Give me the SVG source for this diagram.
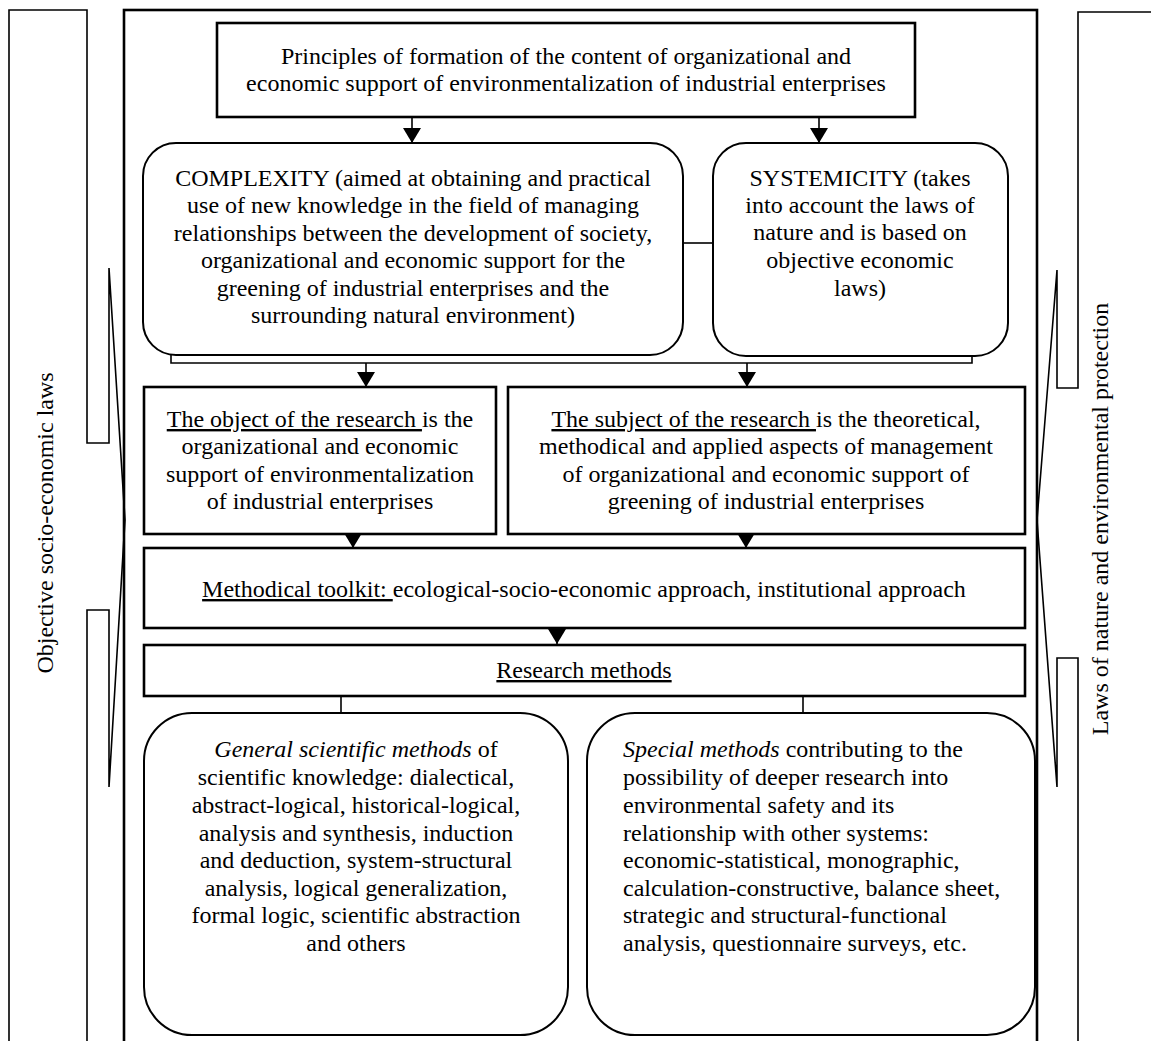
<svg xmlns="http://www.w3.org/2000/svg" width="1151" height="1041" viewBox="0 0 1151 1041">
<style>
text{font-family:"Liberation Serif","Times New Roman",serif;font-size:24px;fill:#000}
.c{text-anchor:middle}
.box{fill:#fff;stroke:#000;stroke-width:2.6}
.rbox{fill:#fff;stroke:#000;stroke-width:2}
.ln{fill:none;stroke:#000;stroke-width:1.6}
.call{fill:none;stroke:#000;stroke-width:1.6}
.u{text-decoration:underline}
</style>
<defs>
<marker id="ah" markerUnits="userSpaceOnUse" markerWidth="18" markerHeight="15" refX="9" refY="15" orient="0" viewBox="0 0 18 15">
<path d="M0,0 L18,0 L9,15 Z" fill="#000"/>
</marker>
</defs>
<rect width="1151" height="1041" fill="#fff"/>
<g id="left-callout">
<polyline class="call" points="9,1045 9,10 87,10 87,443 109,443 109,268 125,520 109,787 109,610 87,610 87,1045"/>
<text class="c" transform="translate(53,523) rotate(-90)">Objective socio-economic laws</text>
</g>
<g id="right-callout">
<polyline class="call" points="1155,12 1078,12 1078,388 1057,388 1057,270 1037,520 1057,787 1057,658 1078,658 1078,1045"/>
<text class="c" transform="translate(1108,519) rotate(-90)">Laws of nature and environmental protection</text>
</g>
<g id="frame">
<rect x="124" y="10" width="913" height="1045" fill="none" stroke="#000" stroke-width="2.6"/>
</g>
<g id="connectors">
<line class="ln" x1="412" y1="117" x2="412" y2="143" marker-end="url(#ah)"/>
<line class="ln" x1="819" y1="117" x2="819" y2="143" marker-end="url(#ah)"/>
<line class="ln" x1="683" y1="243" x2="713" y2="243"/>
<polyline class="ln" points="171,355 171,363 972,363 972,355"/>
<line class="ln" x1="366" y1="363" x2="366" y2="387" marker-end="url(#ah)"/>
<line class="ln" x1="747" y1="363" x2="747" y2="387" marker-end="url(#ah)"/>
<line class="ln" x1="353" y1="534" x2="353" y2="548" marker-end="url(#ah)"/>
<line class="ln" x1="746" y1="534" x2="746" y2="548" marker-end="url(#ah)"/>
<line class="ln" x1="557" y1="628" x2="557" y2="644" marker-end="url(#ah)"/>
<line class="ln" x1="341" y1="696" x2="341" y2="713"/>
<line class="ln" x1="803" y1="696" x2="803" y2="713"/>
</g>
<g id="principles">
<rect class="box" x="217" y="23" width="698" height="94"/>
<text class="c" x="566" y="64">Principles of formation of the content of organizational and</text>
<text class="c" x="566" y="91">economic support of environmentalization of industrial enterprises</text>
</g>
<g id="complexity">
<rect class="rbox" x="143" y="143" width="540" height="212" rx="33" ry="33"/>
<text class="c" x="413" y="186">COMPLEXITY (aimed at obtaining and practical</text>
<text class="c" x="413" y="213">use of new knowledge in the field of managing</text>
<text class="c" x="413" y="241">relationships between the development of society,</text>
<text class="c" x="413" y="268">organizational and economic support for the</text>
<text class="c" x="413" y="296">greening of industrial enterprises and the</text>
<text class="c" x="413" y="323">surrounding natural environment)</text>
</g>
<g id="systemicity">
<rect class="rbox" x="713" y="143" width="295" height="213" rx="33" ry="33"/>
<text class="c" x="860" y="186">SYSTEMICITY (takes</text>
<text class="c" x="860" y="213">into account the laws of</text>
<text class="c" x="860" y="240">nature and is based on</text>
<text class="c" x="860" y="268">objective economic</text>
<text class="c" x="860" y="296">laws)</text>
</g>
<g id="object">
<rect class="box" x="144" y="387" width="352" height="147"/>
<text class="c" x="320" y="427"><tspan class="u">The object of the research </tspan>is the</text>
<text class="c" x="320" y="454">organizational and economic</text>
<text class="c" x="320" y="482">support of environmentalization</text>
<text class="c" x="320" y="509">of industrial enterprises</text>
</g>
<g id="subject">
<rect class="box" x="508" y="387" width="517" height="147"/>
<text class="c" x="766" y="427"><tspan class="u">The subject of the research </tspan>is the theoretical,</text>
<text class="c" x="766" y="454">methodical and applied aspects of management</text>
<text class="c" x="766" y="482">of organizational and economic support of</text>
<text class="c" x="766" y="509">greening of industrial enterprises</text>
</g>
<g id="toolkit">
<rect class="box" x="144" y="548" width="881" height="80"/>
<text class="c" x="584" y="597"><tspan class="u">Methodical toolkit: </tspan>ecological-socio-economic approach, institutional approach</text>
</g>
<g id="research-methods">
<rect class="box" x="144" y="645" width="881" height="51"/>
<text class="c" x="584" y="678"><tspan class="u">Research methods</tspan></text>
</g>
<g id="general-methods">
<rect class="rbox" x="144" y="713" width="424" height="322" rx="48" ry="48"/>
<text class="c" x="356" y="757"><tspan font-style="italic">General scientific methods</tspan> of</text>
<text class="c" x="356" y="785">scientific knowledge: dialectical,</text>
<text class="c" x="356" y="813">abstract-logical, historical-logical,</text>
<text class="c" x="356" y="841">analysis and synthesis, induction</text>
<text class="c" x="356" y="868">and deduction, system-structural</text>
<text class="c" x="356" y="896">analysis, logical generalization,</text>
<text class="c" x="356" y="923">formal logic, scientific abstraction</text>
<text class="c" x="356" y="951">and others</text>
</g>
<g id="special-methods">
<rect class="rbox" x="587" y="713" width="448" height="322" rx="48" ry="48"/>
<text x="623" y="757"><tspan font-style="italic">Special methods</tspan> contributing to the</text>
<text x="623" y="785">possibility of deeper research into</text>
<text x="623" y="813">environmental safety and its</text>
<text x="623" y="841">relationship with other systems:</text>
<text x="623" y="868">economic-statistical, monographic,</text>
<text x="623" y="896">calculation-constructive, balance sheet,</text>
<text x="623" y="923">strategic and structural-functional</text>
<text x="623" y="951">analysis, questionnaire surveys, etc.</text>
</g>
</svg>
